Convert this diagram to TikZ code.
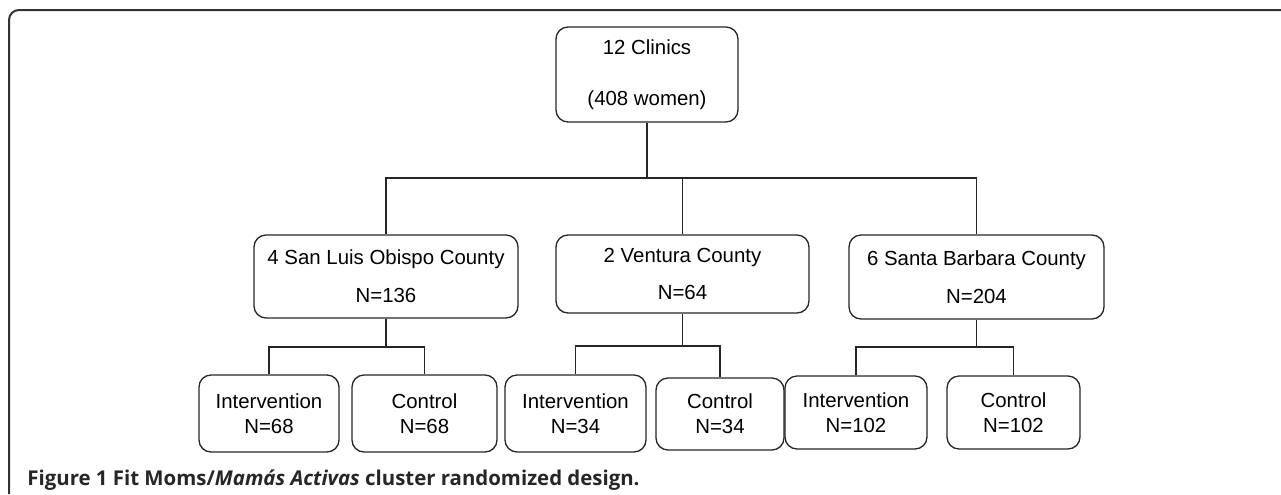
\documentclass[tikz,border=0pt]{standalone}
\usepackage{fontspec}
\setmainfont{Liberation Sans}
\newfontfamily\capfont{Open Sans}
\usepackage{tikz}
\usetikzlibrary{calc,positioning}

\begin{document}
\begin{tikzpicture}[x=0.5pt, y=-0.5pt,
    box/.style 2 args={draw=black!85, line width=0.65pt, rounded corners=6pt, inner sep=0pt,
      align=center, font=\fontsize{10.2}{12.5}\selectfont,
      minimum width=#1*0.5pt, minimum height=#2*0.5pt},
    link/.style={draw=black!85, line width=0.65pt}]
      \useasboundingbox (0,0) rectangle (1281,494);
      \draw[black!80, line width=1pt, rounded corners=5pt] (9,494) -- (9,10) -- (1281,10);
      \node[box={182}{95}] (clinics) at (647,74.5) {12 Clinics\\[13pt](408 women)};
      \node[box={264}{83}] (slo) at (386,276.5) {4 San Luis Obispo County\\[6.4pt]N=136};
      \node[box={253}{78}] (ven) at (682.5,274) {2 Ventura County\\[6.4pt]N=64};
      \node[box={255}{84}] (sb) at (976.5,277) {6 Santa Barbara County\\[6.4pt]N=204};
      \node[box={140}{77}] (sloint) at (269,413.5) {Intervention\\N=68};
      \node[box={145}{77}] (slocon) at (424.5,413.5) {Control\\N=68};
      \node[box={141}{77}] (venint) at (575.5,413.5) {Intervention\\N=34};
      \node[box={128}{72}] (vencon) at (720,414) {Control\\N=34};
      \node[box={142}{73}] (sbint) at (856,412.5) {Intervention\\N=102};
      \node[box={133}{73}] (sbcon) at (1013.5,412.5) {Control\\N=102};
      \coordinate (split) at (647,178);
      \coordinate (slosplit) at (386,347);
      \coordinate (vensplit) at (682.5,346);
      \coordinate (sbsplit) at (976.5,347);
      \draw[link] (clinics.south) -- (split) -| (slo.north);
      \draw[link] (split) -| (ven.north);
      \draw[link] (split) -| (sb.north);
      \draw[link] (slo.south) -- (slosplit) -| (sloint.north);
      \draw[link] (slosplit) -| (slocon.north);
      \draw[link] (ven.south) -- (vensplit) -| (venint.north);
      \draw[link] (vensplit) -| (vencon.north);
      \draw[link] (sb.south) -- (sbsplit) -| (sbint.north);
      \draw[link] (sbsplit) -| (sbcon.north);
      \node[anchor=base west, inner sep=0pt, text=black!85, font=\capfont\bfseries\fontsize{10.2}{12}\selectfont] (caption) at (27,485)
        {Figure 1 Fit Moms/\textit{Mamás Activas} cluster randomized design.};
    \end{tikzpicture}
\end{document}
